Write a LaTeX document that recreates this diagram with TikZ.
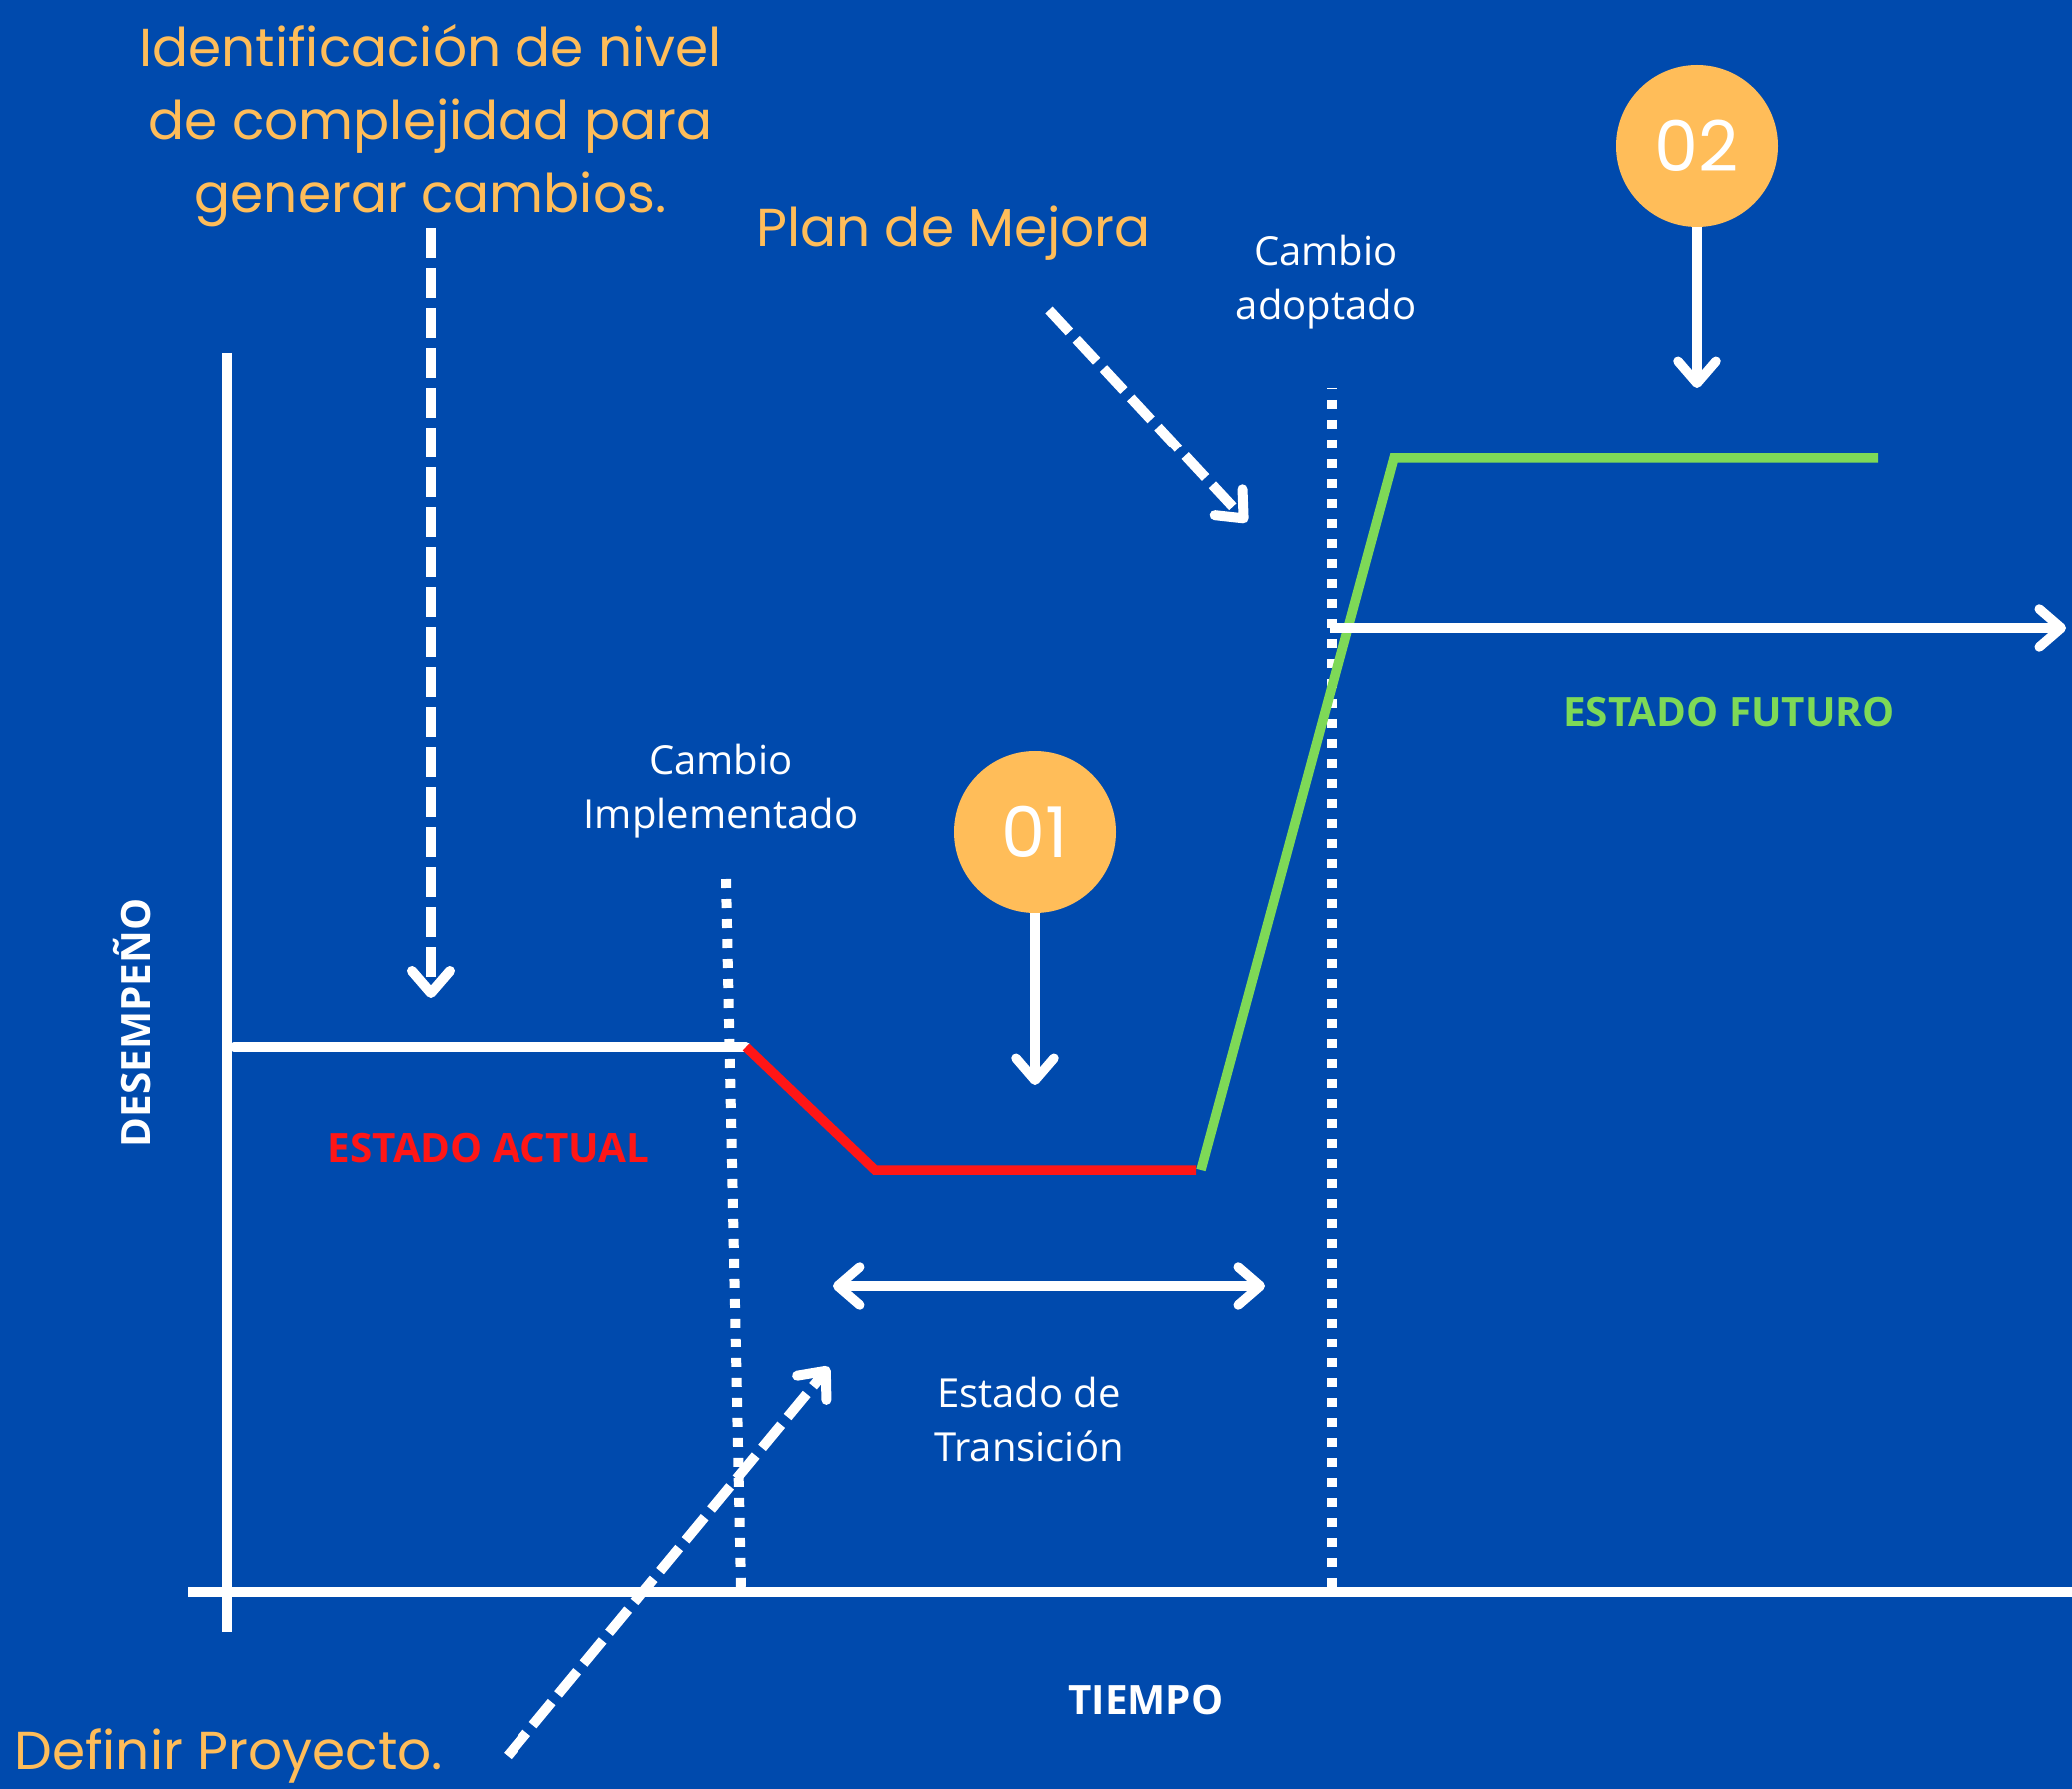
\documentclass[tikz,border=0pt]{standalone}
\usepackage{fontspec}
\setmainfont{Open Sans}
\newfontfamily\geofont{Poppins}
\usetikzlibrary{arrows.meta}
\definecolor{bgblue}{HTML}{004AAD}
\definecolor{orng}{HTML}{FFBD59}
\definecolor{redl}{HTML}{FF1616}
\definecolor{grn}{HTML}{7ED957}
\tikzset{
  >={Straight Barb[length=11pt,width=19pt,round]},
  wline/.style={draw=white,line width=4.75pt},
  dashline/.style={draw=white,line width=5pt,dash pattern=on 15pt off 5pt},
  dotline/.style={draw=white,line width=5pt,dash pattern=on 4.5pt off 5.5pt},
  orangetxt/.style={text=orng,inner sep=0pt,font=\geofont\fontsize{26.7}{36.5}\selectfont,align=center},
  whitetxt/.style={text=white,inner sep=0pt,font=\fontsize{20}{27}\selectfont,align=center},
  boldlbl/.style={inner sep=0pt,font=\bfseries\fontsize{20.2}{24}\selectfont},
  badge/.style={circle,fill=orng,minimum size=81pt,inner sep=0pt,text=white,font=\geofont\fontsize{35}{40}\selectfont},
  curve/.style={line width=4.75pt,line join=miter},
}
\begin{document}
\begin{tikzpicture}[x=0.5pt,y=-0.5pt]
\fill[bgblue] (0,0) rectangle (2074,1791);
\useasboundingbox (0,0) rectangle (2074,1791);

% axes
\coordinate (yaxTop) at (227,353);
\coordinate (yaxBot) at (227,1634);
\coordinate (xaxL) at (188,1594);
\coordinate (xaxR) at (2074,1594);
\draw[wline] (yaxTop) -- (yaxBot);
\draw[wline] (xaxL) -- (xaxR);

% dotted separators
\coordinate (d1top) at (727,880);
\coordinate (d1bot) at (742,1590);
\coordinate (d2top) at (1333,388);
\coordinate (d2bot) at (1333,1590);
\draw[dotline] (d1top) -- (d1bot);
\draw[dotline,dash phase=4pt] (d2top) -- (d2bot);

% current state
\coordinate (curL) at (234,1048);
\coordinate (curR) at (747,1048);
\draw[wline,line cap=round] (curL) -- (curR);

% transition (red) and future (green)
\coordinate (redA) at (876,1171);
\coordinate (redB) at (1197,1171);
\coordinate (grnA) at (1202,1171);
\coordinate (grnB) at (1395,459);
\coordinate (grnC) at (1880,459);
\draw[curve,redl] (curR) -- (redA) -- (redB);
\draw[curve,grn] (grnA) -- (grnB) -- (grnC);

% future arrow
\coordinate (futS) at (1331,629);
\coordinate (futE) at (2068,629);
\draw[wline,->] (futS) -- (futE);

% transition double arrow
\coordinate (trL) at (834,1287);
\coordinate (trR) at (1266,1287);
\draw[wline,<->] (trL) -- (trR);

% badges
\node[badge] (b1) at (1036,833) {01};
\node[badge] (b2) at (1699,146) {02};
\coordinate (b1tip) at (1036,1086);
\coordinate (b2tip) at (1699,388);
\draw[wline,->] (b1.south) -- (b1tip);
\draw[wline,->] (b2.south) -- (b2tip);

% orange texts
\node[orangetxt] (ident) at (431,126) {Identificación de nivel\\de complejidad para\\generar cambios.};
\node[orangetxt,anchor=west] (plan) at (757,233) {Plan de Mejora};
\node[orangetxt,anchor=west] (defp) at (14,1758) {Definir Proyecto.};

% dashed arrows
\coordinate (identS) at (431,228);
\coordinate (identE) at (431,999);
\draw[dashline,->] (identS) -- (identE);
\coordinate (planS) at (1050,310);
\coordinate (planE) at (1248,523);
\draw[dashline,->] (planS) -- (planE);
\coordinate (defS) at (508,1758);
\coordinate (defE) at (830,1369);
\draw[dashline,->] (defS) -- (defE);

% white labels
\node[whitetxt] (cimp) at (722,792) {Cambio\\Implementado};
\node[whitetxt] (cadop) at (1327,282) {Cambio\\adoptado};
\node[whitetxt] (etran) at (1030,1421) {Estado de\\Transición};

% bold labels
\node[boldlbl,text=redl] (eact) at (489,1149) {ESTADO ACTUAL};
\node[boldlbl,text=grn] (efut) at (1731,713) {ESTADO FUTURO};
\node[boldlbl,text=white,rotate=90] (desem) at (132,1024) {DESEMPEÑO};
\node[boldlbl,text=white] (tiempo) at (1147,1702) {TIEMPO};
\end{tikzpicture}
\end{document}
